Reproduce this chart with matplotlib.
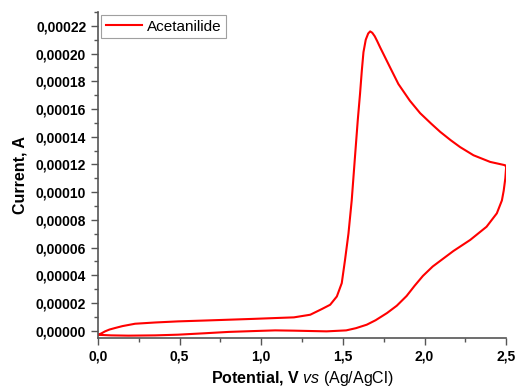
import matplotlib
matplotlib.use("Agg")
import matplotlib.pyplot as plt
from matplotlib.ticker import MultipleLocator, FuncFormatter

plt.rcParams["font.family"] = ["Liberation Sans", "DejaVu Sans"]
plt.rcParams["mathtext.fontset"] = "custom"
plt.rcParams["mathtext.rm"] = "Liberation Sans"
plt.rcParams["mathtext.it"] = "Liberation Sans:italic"
plt.rcParams["mathtext.bf"] = "Liberation Sans:bold"

# Voltammogramme - balayage aller (anodique)
e_aller = [0.0, 0.02, 0.043, 0.07, 0.104, 0.15, 0.227, 0.35, 0.49, 0.65, 0.8, 0.95,
           1.085, 1.2, 1.3, 1.371, 1.422, 1.463, 1.493, 1.513, 1.534, 1.554, 1.575,
           1.591, 1.605, 1.616, 1.626, 1.64, 1.655, 1.667, 1.68, 1.695, 1.71, 1.728,
           1.789, 1.840, 1.91, 1.973, 2.04, 2.096, 2.16, 2.218, 2.30, 2.402, 2.494]
i_aller = [-3.0e-6, -2.0e-6, -0.5e-6, 0.8e-6, 1.9e-6, 3.3e-6, 5.0e-6, 5.9e-6, 6.7e-6,
           7.3e-6, 7.9e-6, 8.5e-6, 9.1e-6, 9.6e-6, 11.5e-6, 15.6e-6, 18.7e-6,
           24.7e-6, 34.3e-6, 51e-6, 70e-6, 94e-6, 127e-6, 151.8e-6, 171e-6,
           187.8e-6, 201e-6, 210e-6, 214.5e-6, 216e-6, 215e-6, 212.5e-6, 209e-6,
           204.5e-6, 190e-6, 178e-6, 166e-6, 157e-6, 149.5e-6, 143.5e-6, 137.5e-6,
           132.5e-6, 126.6e-6, 121.8e-6, 119.4e-6]

# balayage retour (cathodique)
e_retour = [2.5, 2.495, 2.485, 2.474, 2.443, 2.38, 2.28, 2.177, 2.05, 1.99, 1.94,
            1.89, 1.83, 1.77, 1.70, 1.646, 1.58, 1.52, 1.40, 1.2, 1.085, 0.95, 0.8,
            0.65, 0.49, 0.35, 0.186, 0.08, 0.0]
i_retour = [118e-6, 110e-6, 101e-6, 94e-6, 84.7e-6, 75e-6, 65.5e-6, 57.5e-6,
            46.3e-6, 39.5e-6, 32.5e-6, 25e-6, 18e-6, 12.7e-6, 7.5e-6, 4.3e-6, 1.8e-6,
            0.2e-6, -0.5e-6, 0.0e-6, 0.2e-6, -0.3e-6, -0.9e-6, -1.9e-6, -2.9e-6,
            -3.4e-6, -3.6e-6, -3.4e-6, -3.0e-6]

e = e_aller + e_retour
i = i_aller + i_retour

fig = plt.figure(figsize=(5.17, 3.87), dpi=100)
ax = fig.add_axes([0.1896, 0.1266, 0.7894, 0.8424])

ax.plot(e, i, color="red", linewidth=1.5, label="Acetanilide",
        solid_joinstyle="round")

ax.set_xlim(0, 2.5)
ax.set_ylim(-0.0000053, 0.00023)

ax.spines["top"].set_visible(False)
ax.spines["right"].set_visible(False)
for s in ["left", "bottom"]:
    ax.spines[s].set_color("#555555")
    ax.spines[s].set_linewidth(1.2)

ax.xaxis.set_major_locator(MultipleLocator(0.5))
ax.xaxis.set_minor_locator(MultipleLocator(0.25))
ax.yaxis.set_major_locator(MultipleLocator(0.00002))
ax.yaxis.set_minor_locator(MultipleLocator(0.00001))
ax.xaxis.set_major_formatter(FuncFormatter(lambda v, p: f"{v:.1f}".replace(".", ",")))
ax.yaxis.set_major_formatter(FuncFormatter(lambda v, p: f"{v:.5f}".replace(".", ",").replace("-", "")))
ax.tick_params(which="both", direction="out", color="#555555", width=1)
ax.tick_params(which="major", length=5, labelsize=10)
ax.tick_params(which="minor", length=3)
for lab in ax.get_xticklabels() + ax.get_yticklabels():
    lab.set_fontweight("bold")

ax.set_xlabel(r"$\mathbf{Potential{,}\ V}$ $\mathit{vs}$ (Ag/AgCl)", fontsize=11.5, labelpad=4)
ax.set_ylabel("Current, A", fontsize=11.5, fontweight="bold", labelpad=6)

leg = ax.legend(loc="upper left", fontsize=11, frameon=True, fancybox=False,
                borderaxespad=0.2, handlelength=2.4, handletextpad=0.3,
                borderpad=0.3)
leg.get_frame().set_edgecolor("#888888")
leg.get_frame().set_linewidth(0.8)

fig.savefig("out.png", dpi=100)
